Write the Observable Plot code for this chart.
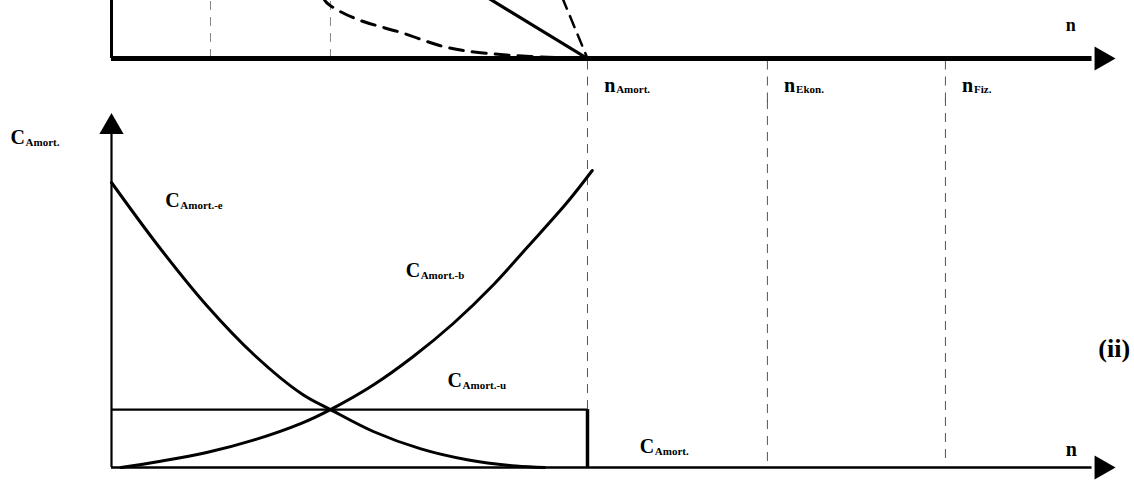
<!DOCTYPE html>
<html><head><meta charset="utf-8">
<script src="https://cdn.jsdelivr.net/npm/d3@7"></script>
<script src="https://cdn.jsdelivr.net/npm/@observablehq/plot@0.6"></script>
<style>body{margin:0;background:#fff;overflow:hidden} #c svg{display:block}</style>
</head><body><div id="c"></div>
<script>
// ---- data (n in "years", values in arbitrary units) ----
const nDomain = [-2.332, 21.492];
const axisEndN = 20.8;
const markerN = [10, 13.78, 17.52];
const markerSub = ["Amort.", "Ekon.", "Fiz."];
const markerBottomC = [1.93, 0.2, 0.3];
const topGuideN = [2.08, 4.6];

// panel (i) (cut off at the top)
const topDashN = [4.45, 4.6, 5.23, 6.07, 6.91, 7.75, 8.8, 10];
const topDashV = [1.05, 0.91, 0.655, 0.45, 0.22, 0.10, 0.035, 0];
const topSolidN = [7.9, 10];
const topSolidV = [1.05, 0];
const topSteepN = [9.47, 10];
const topSteepV = [1.05, 0];

// panel (ii)
const eN = [0, 1, 2, 3, 4, 4.6, 5.5, 6.5, 7.5, 8.5, 9.1];
const eC = [9.5, 7.35, 5.4, 3.75, 2.45, 1.93, 1.2, 0.62, 0.25, 0.05, 0];
const bN = [0.2, 1, 2, 3, 4, 4.6, 5.5, 6.34, 7.18, 8.03, 8.74, 9.58, 10.1];
const bC = [0, 0.2, 0.5, 0.92, 1.48, 1.93, 2.75, 3.7, 4.8, 6.1, 7.35, 8.85, 9.9];
const uC = 1.93;
const amortN = 10;

const labMain = ["C", "C", "C", "C", "C", "n"];
const labSub = ["Amort.", "Amort.-e", "Amort.-b", "Amort.-u", "Amort.", ""];
const labN = [-2.12, 1.13, 6.18, 7.06, 11.1, 20.05];
const labC = [11.0, 8.9, 6.57, 2.9, 0.7, 0.6];

const serif = "Liberation Serif, Times New Roman, serif";
const toRows = (xs, ys) => xs.map((x, i) => ({x, y: ys[i]}));

// ---------- top panel ----------
const topPlot = Plot.plot({
  width: 1134, height: 100,
  marginLeft: 0, marginRight: 0, marginTop: 0, marginBottom: 42,
  x: {domain: nDomain, axis: null},
  y: {domain: [0, 1], axis: null},
  style: {fontFamily: serif, background: "#fff", overflow: "visible"},
  marks: [
    Plot.ruleX(topGuideN, {x: d => d, y1: 0, y2: 1.2, stroke: "#888", strokeWidth: 1, strokeDasharray: "9,7", clip: true}),
    Plot.ruleX(markerN, {x: d => d, y1: -0.75, y2: 0, stroke: "#555", strokeWidth: 1, strokeDasharray: "9,7"}),
    Plot.line(toRows(topDashN, topDashV), {x: "x", y: "y", curve: "natural", stroke: "#000", strokeWidth: 3, strokeDasharray: "14,9", clip: true}),
    Plot.line(toRows(topSolidN, topSolidV), {x: "x", y: "y", stroke: "#000", strokeWidth: 3.2, clip: true}),
    Plot.line(toRows(topSteepN, topSteepV), {x: "x", y: "y", stroke: "#000", strokeWidth: 2.5, strokeDasharray: "12,8", clip: true}),
    Plot.ruleX([0], {x: d => d, y1: 0, y2: 1.2, stroke: "#000", strokeWidth: 3, clip: true}),
    Plot.ruleY([0], {y: d => d, x1: 0, x2: axisEndN - 0.2, stroke: "#000", strokeWidth: 5}),
    Plot.dot([axisEndN], {x: d => d, y: 0, symbol: "triangle", rotate: 90, r: 9, fill: "#000", stroke: "none"}),
    Plot.text(["n"], {x: 20.05, y: 0.57, text: d => d, fontSize: 18, fontWeight: "bold", textAnchor: "start"}),
    Plot.text(markerN, {x: d => d + 0.35, y: -0.47, text: () => "n", fontSize: 20, fontWeight: "bold", textAnchor: "start"}),
    Plot.text(markerN, {x: d => d + 0.35, y: -0.47, text: (d, i) => markerSub[i], dx: 12, dy: 4, fontSize: 11, fontWeight: "bold", textAnchor: "start"})
  ]
});

// ---------- bottom panel ----------
const botPlot = Plot.plot({
  width: 1134, height: 401,
  marginLeft: 0, marginRight: 0, marginTop: 7, marginBottom: 34,
  x: {domain: nDomain, axis: null},
  y: {domain: [0, 12], axis: null},
  style: {fontFamily: serif, background: "#fff", overflow: "visible"},
  marks: [
    Plot.ruleX(markerN, {x: d => d, y1: (d, i) => markerBottomC[i], y2: 12.25, stroke: "#555", strokeWidth: 1, strokeDasharray: "9,7"}),
    Plot.line(toRows(eN, eC), {x: "x", y: "y", curve: "catmull-rom", stroke: "#000", strokeWidth: 3}),
    Plot.line(toRows(bN, bC), {x: "x", y: "y", curve: "catmull-rom", stroke: "#000", strokeWidth: 3}),
    Plot.ruleY([uC], {y: d => d, x1: 0, x2: amortN, stroke: "#000", strokeWidth: 2.2}),
    Plot.ruleX([amortN], {x: d => d, y1: 0, y2: uC, stroke: "#000", strokeWidth: 3.5}),
    Plot.ruleX([0], {x: d => d, y1: 0, y2: 11.3, stroke: "#000", strokeWidth: 2.2}),
    Plot.dot([0], {x: d => d, y: 11.35, symbol: "triangle", r: 9, fill: "#000", stroke: "none"}),
    Plot.ruleY([0], {y: d => d, x1: 0, x2: axisEndN - 0.2, stroke: "#000", strokeWidth: 2.5}),
    Plot.dot([axisEndN], {x: d => d, y: 0, symbol: "triangle", rotate: 90, r: 9, fill: "#000", stroke: "none"}),
    Plot.text(labMain, {x: (d, i) => labN[i], y: (d, i) => labC[i], text: d => d, fontSize: 20, fontWeight: "bold", textAnchor: "start"}),
    Plot.text(labSub, {x: (d, i) => labN[i], y: (d, i) => labC[i], text: d => d, dx: 15, dy: 5, fontSize: 11, fontWeight: "bold", textAnchor: "start"}),
    Plot.text(["(ii)"], {x: 21.4, y: 3.95, text: d => d, fontSize: 26, fontWeight: "bold", textAnchor: "end"})
  ]
});

const c = document.getElementById("c");
c.appendChild(topPlot);
c.appendChild(botPlot);
</script>
</body></html>
